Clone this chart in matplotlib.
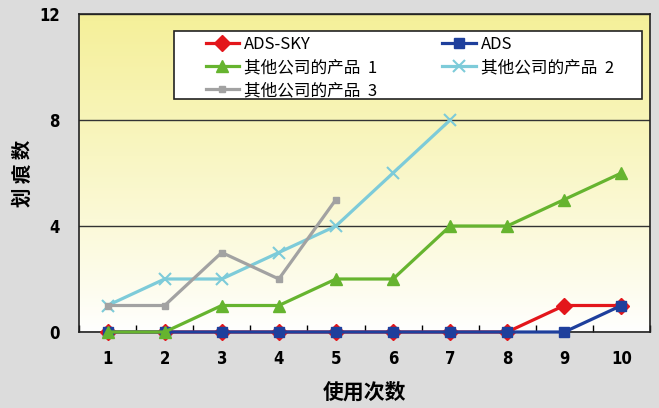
import matplotlib
matplotlib.use("Agg")
import matplotlib.pyplot as plt
from matplotlib.patches import Rectangle
import numpy as np

plt.rcParams['font.family'] = ['Noto Sans CJK SC', 'DejaVu Sans']

# data
uses = [1, 2, 3, 4, 5, 6, 7, 8, 9, 10]
ads_sky = [0, 0, 0, 0, 0, 0, 0, 0, 1, 1]
ads = [0, 0, 0, 0, 0, 0, 0, 0, 0, 1]
other1 = [0, 0, 1, 1, 2, 2, 4, 4, 5, 6]
other2 = [1, 2, 2, 3, 4, 6, 8]
other3 = [1, 1, 3, 2, 5]
y_ticks = [0, 4, 8, 12]

fig = plt.figure(figsize=(6.59, 4.08), dpi=100, facecolor='#dcdcdc')
ax = fig.add_axes([79/659, 1 - 332/408, (650-79)/659, (332-14)/408])

# yellow-to-white background of the plot area
grad = np.linspace(0, 1, 256).reshape(-1, 1)
top = np.array([0.96, 0.94, 0.60])
bot = np.array([1.0, 1.0, 1.0])
img = bot + (top - bot) * grad[:, :, None] ** 0.9
ax.imshow(img, extent=[0, 1, 0, 1], transform=ax.transAxes, origin='lower',
          aspect='auto', zorder=0)

lw = 2.3
kw = dict(lw=lw, clip_on=False)
h1, = ax.plot(uses, ads_sky, color='#e3161b', marker='D', ms=8, label='ADS-SKY', zorder=3, **kw)
h2, = ax.plot(uses, ads, color='#1e3f9c', marker='s', ms=7.5, label='ADS', zorder=4, **kw)
h3, = ax.plot(uses, other1, color='#66b42f', marker='^', ms=9, label='其他公司的产品  1', zorder=5, **kw)
h4, = ax.plot(uses[:len(other2)], other2, color='#7dcbd9', marker='x', ms=9, mew=1.5,
              label='其他公司的产品  2', zorder=6, **kw)
h5, = ax.plot(uses[:len(other3)], other3, color='#a2a2a2', marker='s', ms=5,
              label='其他公司的产品  3', zorder=7, **kw)

ax.set_xlim(0.5, 10.5)
ax.set_ylim(0, 12)
ax.set_xticks(uses)
ax.set_xticks(np.arange(0.5, 11, 1), minor=True)
ax.set_yticks(y_ticks)
ax.tick_params(axis='x', which='major', length=0, pad=13)
ax.tick_params(axis='x', which='minor', direction='in', length=5, width=1)
ax.tick_params(axis='y', length=0, pad=14)
for lab in ax.get_xticklabels() + ax.get_yticklabels():
    lab.set_fontweight('bold')
    lab.set_fontsize(12)
    lab.set_fontstretch('condensed')
    lab.set_family(['Liberation Sans Narrow', 'DejaVu Sans'])

ax.grid(axis='y', color='#333333', lw=1.0)
ax.set_axisbelow(True)
for s in ax.spines.values():
    s.set_color('#222222')
    s.set_linewidth(1.2)

ax.set_xlabel('使用次数', fontsize=15, fontweight='bold', labelpad=10)
ax.set_ylabel('划 痕 数', fontsize=14, fontweight='bold', labelpad=4)

# legend box drawn separately so the entries can sit inside it like the original
box = Rectangle((0.166, 0.733), 0.82, 0.214, transform=ax.transAxes, facecolor='white',
                edgecolor='#222222', lw=1.2, zorder=9)
ax.add_patch(box)
leg = ax.legend([h1, h3, h5, h2, h4], [h1.get_label(), h3.get_label(), h5.get_label(),
                h2.get_label(), h4.get_label()],
                ncol=2, loc='upper left', bbox_to_anchor=(0.222, 0.93),
                fontsize=12, frameon=False, handlelength=2.0, handletextpad=0.3,
                borderpad=0, labelspacing=0.36, columnspacing=3.9, borderaxespad=0)
leg.set_zorder(10)

fig.savefig('out.png', dpi=100, facecolor=fig.get_facecolor())
